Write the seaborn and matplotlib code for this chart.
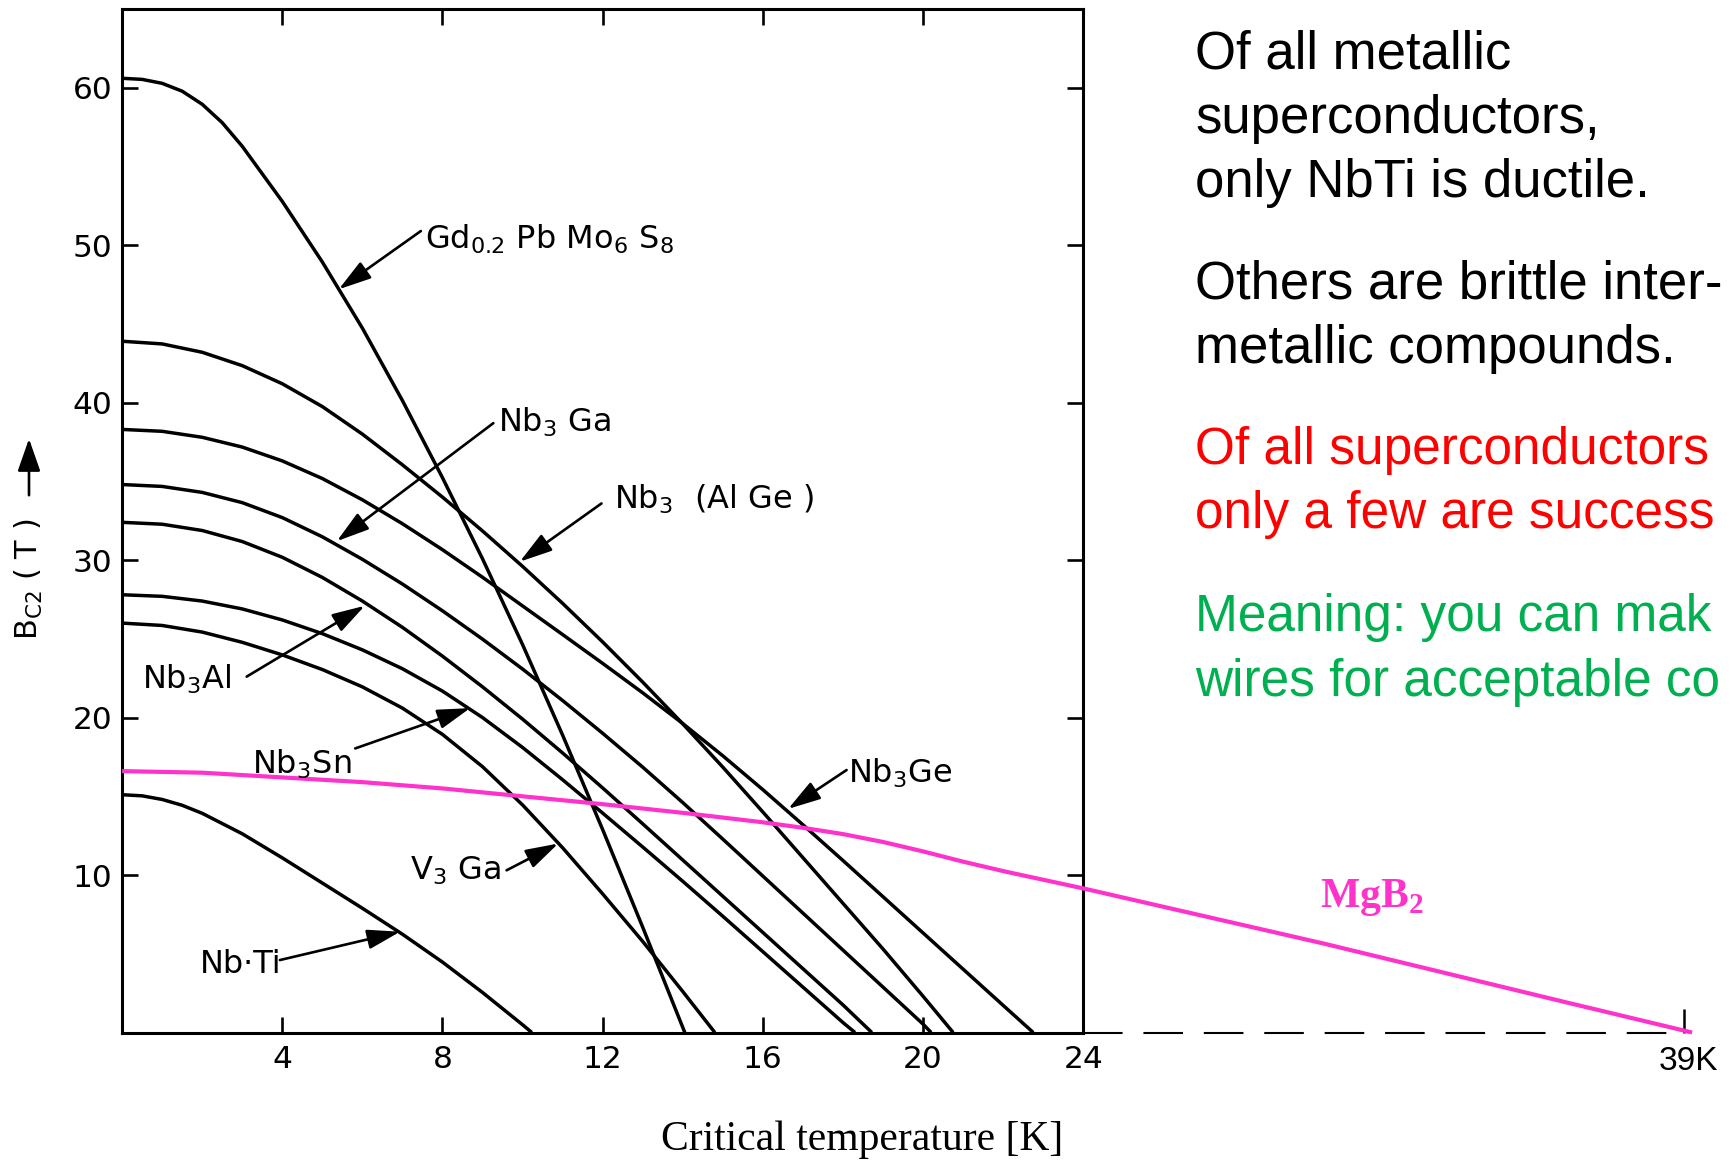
import matplotlib
matplotlib.use("Agg")
import matplotlib.pyplot as plt
import seaborn as sns

# ---------------- data ----------------
# upper critical field B_c2 (T) versus temperature (K)
gd_T = [0, 0.5, 1, 1.5, 2, 2.5, 3, 4, 5, 6, 7, 8, 9, 10, 11, 12, 13, 14.05]
gd_B = [60.6, 60.53, 60.28, 59.78, 58.95, 57.78, 56.28, 52.78, 48.93, 44.73, 40.13, 35.23,
        30.08, 24.63, 18.88, 12.88, 6.68, 0]

alge_T = [0, 1, 2, 3, 4, 5, 6, 7, 8, 9, 10, 11, 12, 13, 14, 15, 16, 17, 18, 19, 20, 20.75]
alge_B = [43.9, 43.73, 43.2, 42.35, 41.2, 39.75, 38.0, 36.05, 34.0, 31.85, 29.6, 27.25, 24.8,
          22.25, 19.6, 16.85, 14.0, 11.1, 8.2, 5.3, 2.3, 0]

ge_T = [0, 1, 2, 3, 4, 5, 6, 7, 8, 9, 10, 11, 12, 13, 14, 15, 16, 17, 18, 19, 20, 21, 22, 22.75]
ge_B = [38.3, 38.18, 37.8, 37.18, 36.3, 35.18, 33.83, 32.31, 30.66, 28.91, 27.09, 25.27, 23.44,
        21.57, 19.62, 17.57, 15.42, 13.19, 10.92, 8.62, 6.32, 4.02, 1.72, 0]

ga_T = [0, 1, 2, 3, 4, 5, 6, 7, 8, 9, 10, 11, 12, 13, 14, 15, 16, 17, 18, 19, 20, 20.2]
ga_B = [34.8, 34.68, 34.3, 33.65, 32.7, 31.48, 30.05, 28.48, 26.78, 24.98, 23.08, 21.08, 19.0,
        16.85, 14.6, 12.28, 9.93, 7.58, 5.23, 2.88, 0.53, 0]

al_T = [0, 1, 2, 3, 4, 5, 6, 7, 8, 9, 10, 11, 12, 13, 14, 15, 16, 17, 18, 18.72]
al_B = [32.4, 32.28, 31.88, 31.18, 30.18, 28.9, 27.4, 25.73, 23.9, 21.95, 19.9, 17.75, 15.53,
        13.25, 10.95, 8.65, 6.35, 4.05, 1.75, 0]

sn_T = [0, 1, 2, 3, 4, 5, 6, 7, 8, 9, 10, 11, 12, 13, 14, 15, 16, 17, 18, 18.3]
sn_B = [27.8, 27.7, 27.4, 26.9, 26.2, 25.33, 24.3, 23.1, 21.68, 20.0, 18.1, 16.05, 13.93,
        11.78, 9.6, 7.38, 5.13, 2.88, 0.63, 0]

v3ga_T = [0, 1, 2, 3, 4, 5, 6, 7, 8, 9, 10, 11, 12, 13, 14, 14.8]
v3ga_B = [26.0, 25.85, 25.43, 24.78, 23.98, 23.05, 21.95, 20.6, 18.93, 16.88, 14.45, 11.73,
          8.8, 5.78, 2.6, 0]

nbti_T = [0, 0.5, 1, 1.5, 2, 3, 4, 5, 6, 7, 8, 9, 10, 10.23]
nbti_B = [15.1, 15.03, 14.8, 14.43, 13.92, 12.62, 11.09, 9.49, 7.89, 6.24, 4.47, 2.54, 0.49, 0]

mgb2_T = [0, 2, 4, 6, 8, 10, 12, 14, 16, 17, 18, 19, 20, 21, 22, 23, 24, 27, 30, 33, 36, 39.2]
mgb2_B = [16.6, 16.5, 16.2, 15.9, 15.5, 15.0, 14.5, 13.95, 13.35, 13.0, 12.6, 12.1, 11.5,
          10.85, 10.25, 9.7, 9.15, 7.4, 5.65, 3.8, 1.95, 0]
mgb2_tc = 39

x_ticks = [4, 8, 12, 16, 20, 24]
y_ticks = [10, 20, 30, 40, 50, 60]

curves = [
    (gd_T, gd_B), (alge_T, alge_B), (ge_T, ge_B), (ga_T, ga_B),
    (al_T, al_B), (sn_T, sn_B), (v3ga_T, v3ga_B), (nbti_T, nbti_B),
]

# ---------------- style ----------------
sns.set_style("ticks")
plt.rcParams["font.family"] = ["DejaVu Sans"]
plt.rcParams["mathtext.fontset"] = "dejavusans"
for k in ["text.color", "axes.labelcolor", "xtick.color", "ytick.color", "axes.edgecolor"]:
    plt.rcParams[k] = "black"

W, H = 1730, 1161
fig = plt.figure(figsize=(W / 100, H / 100), dpi=100)
fig.patch.set_facecolor("white")
ax = fig.add_axes([122.1 / W, 1 - 1032.5 / H, (1083.3 - 122.1) / W, (1032.5 - 9) / H])
ax.set_facecolor("white")

for T, B in curves:
    sns.lineplot(x=T, y=B, ax=ax, color="black", linewidth=2.5, sort=False, estimator=None)

MAG = "#FF33CC"
sns.lineplot(x=mgb2_T, y=mgb2_B, ax=ax, color=MAG, linewidth=3.0, sort=False, estimator=None)
ax.lines[-1].set_clip_on(False)
ax.lines[-1].set_zorder(5)
for ln in ax.lines:
    ln.set_solid_joinstyle("round")
    ln.set_solid_capstyle("butt")

ax.set_xlim(0, 24)
ax.set_ylim(0, 65)
ax.set_xticks(x_ticks)
ax.set_yticks(y_ticks)
ax.set_xlabel("")
ax.set_ylabel("")
for s in ax.spines.values():
    s.set_linewidth(2.2)
    s.set_color("black")
    s.set_visible(True)
ax.tick_params(axis="both", direction="in", length=11.5, width=1.9, top=True, right=True,
               labelsize=22.5, colors="black")
ax.tick_params(axis="x", pad=9)
ax.tick_params(axis="y", pad=7)

# dashed continuation of the temperature axis to 39 K
xmax = ax.get_xlim()[1]
ax.hlines(0, xmax, mgb2_tc, colors="black", linewidth=1.5, linestyles=(0, (19, 10)),
          clip_on=False, zorder=3)
ax.vlines(mgb2_tc, 0, 1.5, colors="black", linewidth=1.8, clip_on=False)
ax.text(mgb2_tc + 0.1, -2.38, f"{mgb2_tc}K", ha="center", va="baseline", fontsize=24,
        family="Liberation Sans", clip_on=False)

# MgB2 label
ax.text(29.9, 7.97, r"MgB$_\mathregular{2}$", color=MAG, fontsize=30, family="Liberation Serif",
        fontweight="bold", ha="left", va="baseline", clip_on=False)

# material labels with arrows
lab_fs = 23
labels = [
    (r"Gd$_\mathregular{0.2}$ Pb Mo$_\mathregular{6}$ S$_\mathregular{8}$", (7.56, 49.8), (7.46, 50.9), (5.41, 47.2)),
    (r"Nb$_\mathregular{3}$ Ga", (9.39, 38.15), (9.27, 38.7), (5.36, 31.2)),
    (r"Nb$_\mathregular{3}$  (Al Ge )", (12.27, 33.3), (11.97, 33.6), (9.93, 29.9)),
    (r"Nb$_\mathregular{3}$Ge", (18.13, 15.9), (18.09, 16.67), (16.63, 14.2)),
    (r"Nb$_\mathregular{3}$Al", (0.49, 21.85), (3.11, 22.6), (6.06, 27.1)),
    (r"Nb$_\mathregular{3}$Sn", (3.24, 16.46), (5.82, 18.04), (8.69, 20.6)),
    (r"V$_\mathregular{3}$ Ga", (7.19, 9.68), (9.6, 10.3), (10.89, 12.0)),
    ("Nb·Ti", (1.94, 3.76), (3.94, 4.6), (6.94, 6.4)),
]
for txt, pos, tail, tip in labels:
    ax.text(pos[0], pos[1], txt, fontsize=lab_fs, ha="left", va="baseline", zorder=6)
    ax.annotate("", xy=tip, xytext=tail,
                arrowprops=dict(arrowstyle="-|>,head_length=1.0,head_width=0.3", color="black",
                                lw=1.9, shrinkA=0, shrinkB=0, mutation_scale=20), zorder=6)

# y-axis label with upward arrow
fig.text(29 / W, 1 - 640 / H, r"B$_\mathregular{C2}$ ( T )", rotation=90, ha="center", va="bottom",
         fontsize=22)
fig.add_artist(matplotlib.patches.FancyArrowPatch(
    (29 / W, 1 - 498 / H), (29 / W, 1 - 436 / H), transform=fig.transFigure,
    arrowstyle="-|>,head_length=1.0,head_width=0.35", mutation_scale=20, lw=1.9, color="black"))

# x-axis label
fig.text(861.7 / W, 1 - 1150 / H, "Critical temperature [K]", ha="center", va="baseline",
         fontsize=30, family="Liberation Serif")

# commentary text on the right (the reference slide crops the last lines at its edge)
tx = 1195 / W
lines = [
    ("Of all metallic", 68.9, "black", 38),
    ("superconductors,", 133.0, "black", 38),
    ("only NbTi is ductile.", 197.4, "black", 38),
    ("Others are brittle inter-", 298.4, "black", 38),
    ("metallic compounds.", 362.7, "black", 38),
    ("Of all superconductors", 463.7, "#FF0000", 37),
    ("only a few are success", 528.0, "#FF0000", 37),
    ("Meaning: you can mak", 631.3, "#00B050", 37),
    ("wires for acceptable co", 695.6, "#00B050", 37),
]
for s, yb, c, fs in lines:
    fig.text(tx, 1 - yb / H, s, ha="left", va="baseline", fontsize=fs, color=c,
             family="Liberation Sans")

fig.savefig("out.png", dpi=100, facecolor="white")
